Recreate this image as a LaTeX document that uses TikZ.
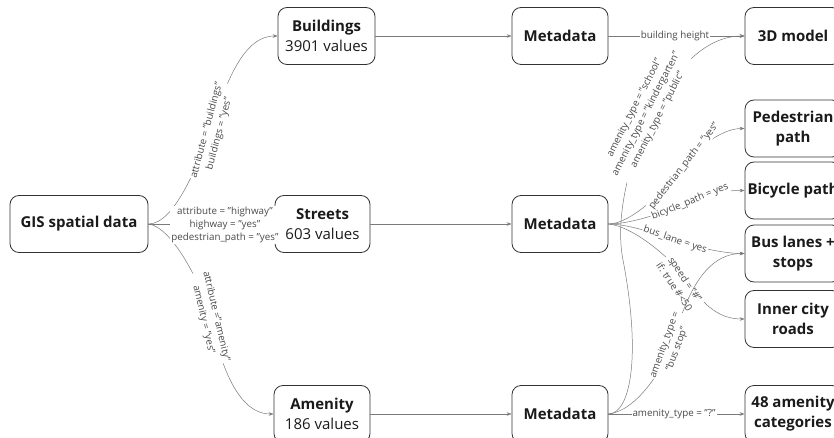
\documentclass[tikz,border=0pt]{standalone}
\usepackage{fontspec}
\setmainfont{Open Sans}
\usetikzlibrary{arrows.meta}
\definecolor{boxc}{HTML}{333333}
\definecolor{linec}{HTML}{7A7A7A}
\definecolor{labc}{HTML}{4A4A4A}
\definecolor{txtc}{HTML}{1A1A1A}
\begin{document}
\begin{tikzpicture}[x=1pt,y=-1pt,
  box/.style={draw=boxc, line width=0.8pt, rounded corners=9pt, minimum width=96pt,
    minimum height=57pt, align=center, font=\fontsize{15}{20}\selectfont, text=txtc, inner sep=0pt},
  edge/.style={draw=linec, line width=0.5pt, -{Stealth[length=5pt,width=3.5pt]}},
  lab/.style={font=\fontsize{9.8}{13}\selectfont, text=labc, fill=white, inner sep=1pt, align=center},
]
\useasboundingbox (0,0) rectangle (834,438);
\clip (0,0) rectangle (834,438);

% nodes
\node[box, minimum width=138pt] (gis) at (79,224) {\bfseries GIS spatial data};
\node[box, minimum width=97pt] (bld) at (326.5,36) {\bfseries Buildings\\3901 values};
\node[box, minimum width=95pt] (str) at (322.5,224) {\bfseries Streets\\603 values};
\node[box] (amn) at (322,414) {\bfseries Amenity\\186 values};
\node[box] (m1) at (560,36) {\bfseries Metadata};
\node[box] (m2) at (560,224) {\bfseries Metadata};
\node[box] (m3) at (560,414) {\bfseries Metadata};
\node[box] (td) at (793,36) {\bfseries 3D model};
\node[box] (ped) at (793,128.5) {\bfseries Pedestrian\\\bfseries path};
\node[box] (bic) at (793,190.5) {\bfseries Bicycle path};
\node[box] (bus) at (793,253.5) {\bfseries Bus lanes +\\\bfseries stops};
\node[box] (inn) at (793,319) {\bfseries Inner city\\\bfseries roads};
\node[box] (cat) at (793,414) {\bfseries 48 amenity\\\bfseries categories};

% label anchor points
\coordinate (Lb) at (211,128);
\coordinate (La) at (210,318);
\coordinate (Lped) at (684,166);
\coordinate (Lbic) at (690,202);
\coordinate (Lbus) at (675,240);
\coordinate (Linn) at (687,281);
\coordinate (Lbs) at (671,347);
\coordinate (W) at (623,260);
\coordinate (Lsch) at (650,117);

% edges
\draw[edge] (gis.east) .. controls +(27,0) and +(-12,33) .. (Lb)
  .. controls +(12,-33) and +(-38,0) .. (bld.west);
\draw[edge] (gis.east) -- (str.west);
\draw[edge] (gis.east) .. controls +(22,2) and +(-9,-37) .. (La)
  .. controls +(9,37) and +(-39,0) .. (amn.west);
\draw[edge] (bld.east) -- (m1.west);
\draw[edge] (str.east) -- (m2.west);
\draw[edge] (amn.east) -- (m3.west);
\draw[edge] (m1.east) -- (td.west);
\draw[edge] (m2.east) .. controls +(23,0) and +(-18.5,23.6) .. (Lped)
  .. controls +(18.5,-23.6) and +(-20,0) .. (ped.west);
\draw[edge] (m2.east) .. controls +(23,0) and +(-28,11) .. (Lbic)
  .. controls +(28,-11) and +(-15,0) .. (bic.west);
\draw[edge] (m2.east) .. controls +(18,0) and +(-24,-8) .. (Lbus)
  .. controls +(24,8) and +(-20,0) .. (bus.west);
\draw[edge] (m2.east) .. controls +(23,2) and +(-17,-25) .. (Linn)
  .. controls +(17,25) and +(-25,0) .. (inn.west);
\draw[edge] (m3.east) -- (cat.west);
\draw[edge] (m3.east) .. controls +(21,0) and +(19,100) .. (W)
  .. controls +(-9,-45) and +(-18,36) .. (Lsch)
  .. controls +(18,-36) and +(-45,0) .. (td.west);

% labels
\node[lab, rotate=75] (lb1) at (213,132) {attribute = "buildings"\\buildings = "yes"};
\node[lab] (lb2) at (225,225) {attribute = "highway"\\highway = "yes"\\pedestrian\_path = "yes"};
\node[lab, rotate=-77] (lb3) at (210,318) {attribute ="amenity"\\amenity = "yes"};
\node[lab] (lbh) at (675,36) {building height};
\node[lab, rotate=63] (lsch) at (646,114) {amenity\_type = "school"\\amenity\_type = "kindergarten"\\amenity\_type = "public"};
\node[lab, rotate=52] (lped) at (684,166) {pedestrian\_path = "yes"};
\node[lab, rotate=22] (lbic) at (690,202) {bicycle\_path = yes};
\node[lab, rotate=-19] (lbus) at (675,240) {bus\_lane = yes};
\node[lab, rotate=-56] (linn) at (680,283) {speed = "\#"\\if: true \#<50};
\node[lab] (lcat) at (674,414) {amenity\_type = "?"};

\draw[edge] (m3.east) .. controls +(28,-3) and +(-9,23) .. (Lbs)
  .. controls +(8.5,-23.5) and +(-50,0) .. (bus.west);
\node[lab, rotate=70] (lbs) at (671,347) {amenity\_type =\\"bus stop"};
\end{tikzpicture}
\end{document}
